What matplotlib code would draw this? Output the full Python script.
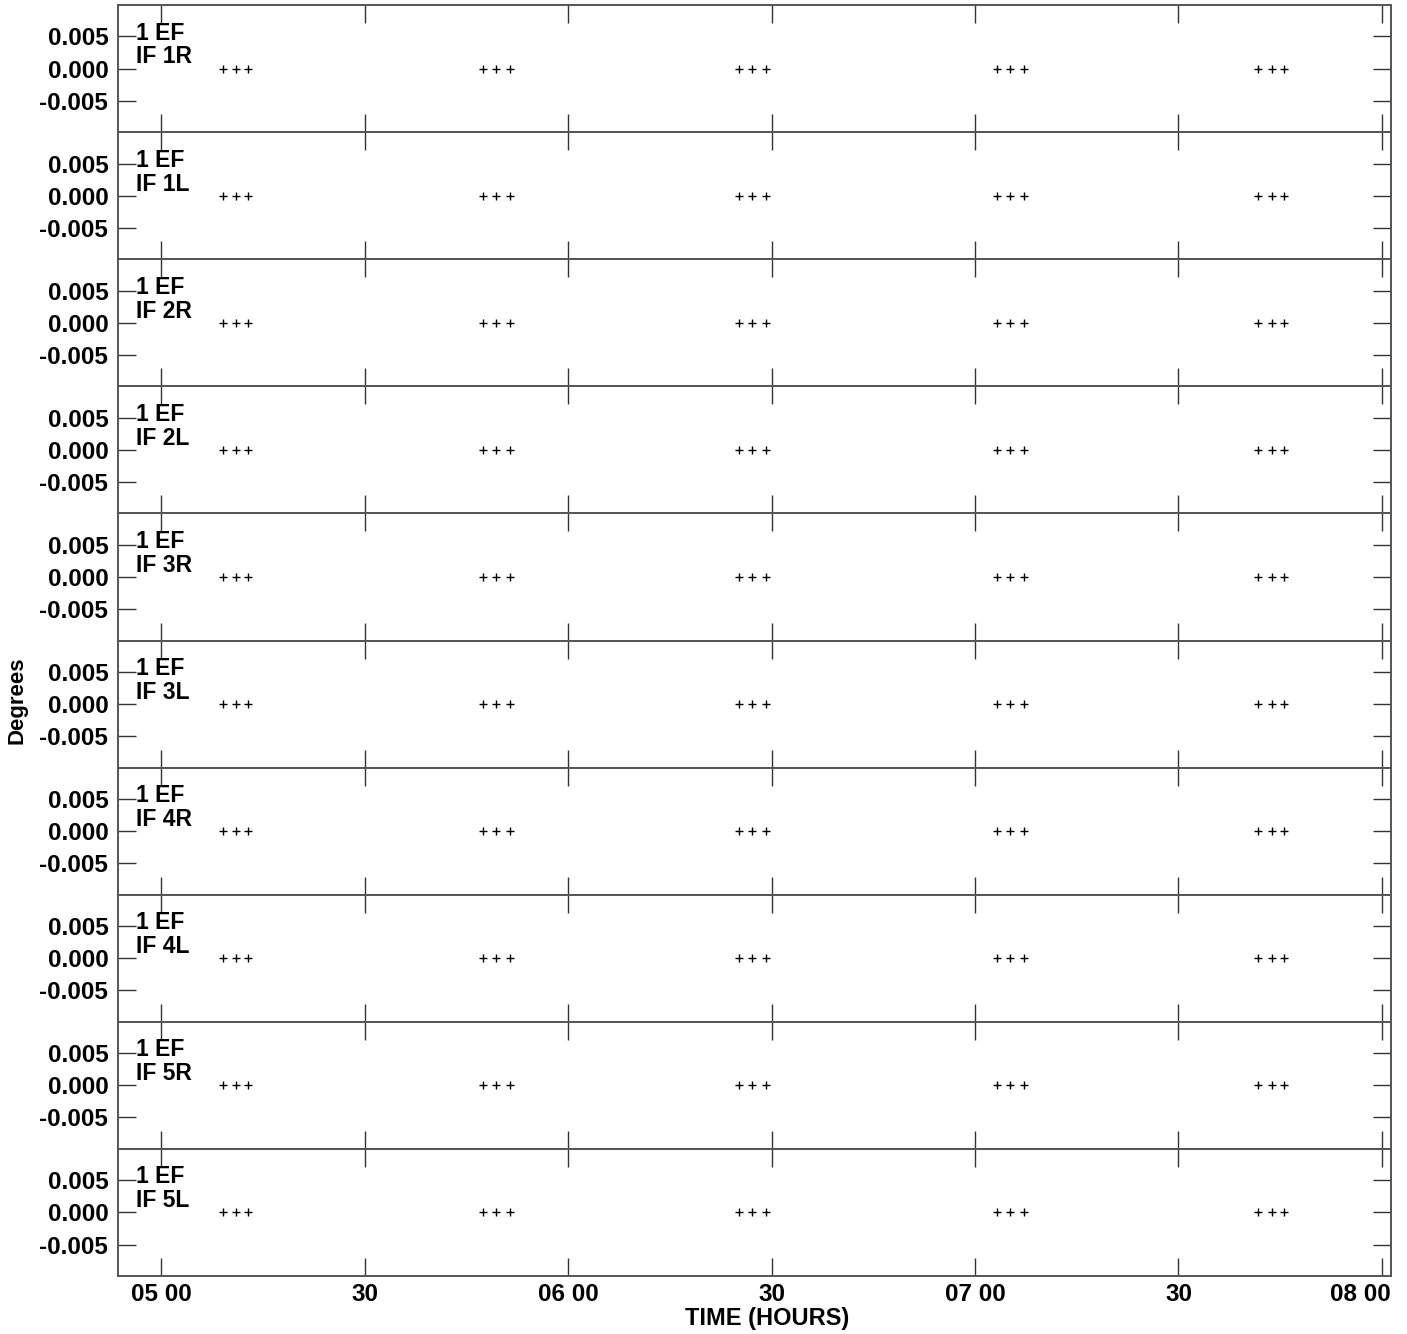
import matplotlib
matplotlib.use("Agg")
import matplotlib.pyplot as plt
import matplotlib.transforms as mtransforms
import numpy as np

# ---- data ----
panel_labels = ["IF 1R", "IF 1L", "IF 2R", "IF 2L", "IF 3R",
                "IF 3L", "IF 4R", "IF 4L", "IF 5R", "IF 5L"]
station = "1 EF"
# minutes after 05:00 UT
time_min = [9.1, 11.0, 12.8,
            47.4, 49.4, 51.4,
            85.2, 87.1, 89.2,
            123.2, 125.2, 127.2,
            161.8, 163.8, 165.6]
phase_deg = [0.0] * 15
xtick_min = [0, 30, 60, 90, 120, 150, 180]
xtick_labels = ["05 00", "30", "06 00", "30", "07 00", "30", "08 00"]
ytick_vals = [-0.005, 0.0, 0.005]
ytick_labels = ["-0.005", "0.000", "0.005"]

plt.rcParams['font.family'] = ['Liberation Sans', 'DejaVu Sans']
plt.rcParams['font.weight'] = 'bold'

W, H = 1407, 1334
fig = plt.figure(figsize=(W / 100, H / 100), dpi=100)

left = 118 / W
right = 1390.7 / W
top = 1 - 5 / H
bottom = 1 - 1276 / H
n = len(panel_labels)
ph = (top - bottom) / n

FS = 17.5
frame_col = '#555555'
for i, lab in enumerate(panel_labels):
    y0 = top - (i + 1) * ph
    ax = fig.add_axes([left, y0, right - left, ph])
    ax.plot(time_min, phase_deg, linestyle='none', marker='+',
            color='black', markersize=6, markeredgewidth=1.0)
    ax.set_xlim(-6.4, 181.3)
    ax.set_ylim(-0.0099, 0.0099)
    ax.set_xticks(xtick_min)
    ax.set_yticks(ytick_vals)
    ax.tick_params(axis='both', which='major', direction='in', length=13,
                   width=1.0, color='#333333', top=True, right=True,
                   labelsize=FS, pad=7)
    ax.set_yticklabels(ytick_labels, fontweight='bold')
    if i == n - 1:
        ax.set_xticklabels(xtick_labels, fontweight='bold')
        ax.tick_params(axis='x', pad=5)
        last = ax.get_xticklabels()[-1]
        last.set_transform(last.get_transform() +
                           mtransforms.ScaledTranslation(-22 / 100, 0,
                                                         fig.dpi_scale_trans))
    else:
        ax.set_xticklabels([])
    for s in ax.spines.values():
        s.set_color(frame_col)
        s.set_linewidth(1.4)
    ax.text(0.0141, 0.87, station + "\n" + lab, transform=ax.transAxes,
            ha='left', va='top', fontsize=16.5, fontweight='bold',
            linespacing=1.05)

fig.text(17 / W, 1 - 700 / H, "Degrees", rotation=90, ha='center',
         va='center', fontsize=16, fontweight='bold')
fig.text(767 / W, 1 - 1318 / H, "TIME (HOURS)", ha='center', va='center',
         fontsize=17, fontweight='bold')

fig.savefig("out.png", dpi=100)
